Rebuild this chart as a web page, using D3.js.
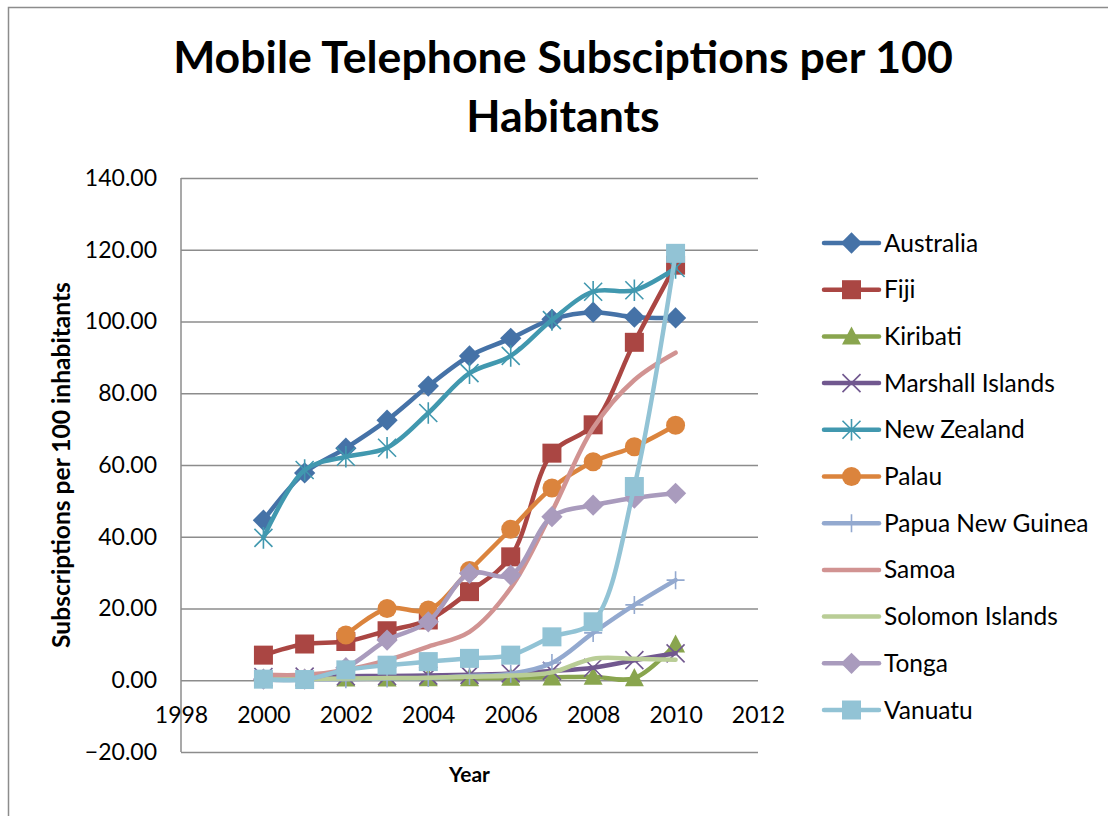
<!DOCTYPE html>
<meta charset="utf-8">
<script src="https://d3js.org/d3.v7.min.js"></script>
<style>
    body { margin: 0; background: #fff; }
    text { font-family: Lato, "Open Sans", sans-serif; fill: #000; }
</style>
<div id="chart"></div>
<script>
    // values
    var years = [2000, 2001, 2002, 2003, 2004, 2005, 2006, 2007, 2008, 2009, 2010];
    var australia = [44.6, 57.8, 64.7, 72.5, 82.0, 90.4, 95.3, 100.6, 102.6, 101.2, 101.0];
    var fiji = [7.0, 10.1, 10.8, 13.8, 16.8, 24.7, 34.4, 63.3, 71.2, 94.2, 115.7];
    var kiribati = [0.5, 0.5, 0.5, 0.5, 0.6, 0.6, 0.7, 0.8, 1.0, 0.6, 10.0];
    var marshall = [0.9, 1.0, 1.1, 1.2, 1.3, 1.5, 1.9, 2.6, 3.5, 5.6, 7.5];
    var newZealand = [39.7, 58.6, 62.3, 64.8, 74.5, 85.6, 90.4, 100.4, 108.3, 108.7, 114.9];
    var palau = [null, null, 12.6, 20.0, 19.6, 30.6, 42.1, 53.6, 60.9, 65.1, 71.1];
    var papua = [0.2, 0.3, 0.3, 0.5, 0.6, 1.2, 1.8, 4.8, 13.2, 21.0, 27.9];
    var samoa = [1.5, 1.5, 2.9, 5.6, 9.4, 13.5, 25.7, 47.0, 70.3, 83.7, 91.3];
    var solomon = [0.2, 0.3, 0.5, 0.6, 0.7, 1.0, 1.3, 2.2, 6.0, 6.0, 5.7];
    var tonga = [0.3, 0.3, 3.5, 11.2, 16.3, 29.8, 29.3, 45.6, 48.8, 50.8, 52.1];
    var vanuatu = [0.3, 0.2, 2.9, 4.2, 5.2, 6.1, 7.0, 12.1, 16.3, 54.0, 119.0];

    var seriesNames = ["Australia", "Fiji", "Kiribati", "Marshall Islands", "New Zealand", "Palau",
        "Papua New Guinea", "Samoa", "Solomon Islands", "Tonga", "Vanuatu"];
    var seriesValues = [australia, fiji, kiribati, marshall, newZealand, palau, papua, samoa, solomon, tonga, vanuatu];
    var seriesColors = ["#4572A7", "#AA4643", "#89A54E", "#71588F", "#4198AF", "#DB843D",
        "#93A9CF", "#D19392", "#B9CD96", "#A99BBD", "#92C3D5"];
    var seriesMarkers = ["diamond", "square", "triangle", "x", "star", "circle",
        "plus", "none", "none", "diamond", "square"];

    var xTicks = [1998, 2000, 2002, 2004, 2006, 2008, 2010, 2012];
    var yTicks = [-20, 0, 20, 40, 60, 80, 100, 120, 140];

    var W = 1108, H = 816;
    var plot = { left: 181, right: 758, top: 178, bottom: 752 };

    var svg = d3.select("#chart").append("svg")
        .attr("width", W)
        .attr("height", H);

    // chart area border
    svg.append("rect")
        .attr("x", 8.5).attr("y", 7.5)
        .attr("width", W + 20).attr("height", H + 20)
        .attr("fill", "none")
        .attr("stroke", "#8c8c8c")
        .attr("stroke-width", 1.5);

    var x = d3.scaleLinear().domain([1998, 2012]).range([plot.left, plot.right]);
    var y = d3.scaleLinear().domain([-20, 140]).range([plot.bottom, plot.top]);

    // gridlines + y labels
    var yAxis = d3.axisLeft(y)
        .tickValues(yTicks)
        .tickSize(-(plot.right - plot.left))
        .tickPadding(24)
        .tickFormat(d3.format(".2f"));

    var gy = svg.append("g")
        .attr("transform", "translate(" + plot.left + ",0)")
        .call(yAxis);
    gy.select(".domain").remove();
    gy.selectAll(".tick line").attr("stroke", "#8c8c8c").attr("stroke-width", 1.5);
    gy.selectAll(".tick text")
        .style("font-size", "23px")
        .attr("fill", "#000");

    // y axis line
    svg.append("line")
        .attr("x1", plot.left).attr("x2", plot.left)
        .attr("y1", plot.top).attr("y2", plot.bottom)
        .attr("stroke", "#8c8c8c").attr("stroke-width", 1.5);

    // x labels sit under the zero line
    var xAxis = d3.axisBottom(x)
        .tickValues(xTicks)
        .tickSize(0)
        .tickPadding(26)
        .tickFormat(d3.format("d"));
    var gx = svg.append("g")
        .attr("transform", "translate(0," + y(0) + ")")
        .call(xAxis);
    gx.select(".domain").remove();
    gx.selectAll(".tick text")
        .style("font-size", "23px")
        .attr("fill", "#000");

    // marker shapes
    function markerPath(type, s) {
        var h = s / 2;
        if (type === "diamond") {
            h = h * 1.12;
            return "M0," + (-h) + "L" + h + ",0L0," + h + "L" + (-h) + ",0Z";
        }
        if (type === "square") return "M" + (-h) + "," + (-h) + "h" + s + "v" + s + "h" + (-s) + "Z";
        if (type === "triangle") return "M0," + (-h * 1.05) + "L" + h + "," + h * 0.85 + "L" + (-h) + "," + h * 0.85 + "Z";
        if (type === "x") return "M" + (-h) + "," + (-h) + "L" + h + "," + h + "M" + h + "," + (-h) + "L" + (-h) + "," + h;
        if (type === "star") return "M" + (-h) + "," + (-h) + "L" + h + "," + h + "M" + h + "," + (-h) + "L" + (-h) + "," + h +
            "M0," + (-h * 1.2) + "V" + h * 1.2;
        if (type === "plus") return "M" + (-h) + ",0H" + h + "M0," + (-h) + "V" + h;
        return "";
    }

    function drawMarker(g, type, color) {
        if (type === "none") return;
        if (type === "circle") {
            g.append("circle").attr("r", 9.5).attr("fill", color);
        } else if (type === "x" || type === "star" || type === "plus") {
            g.append("path").attr("d", markerPath(type, 18))
                .attr("stroke", color).attr("stroke-width", 1.6).attr("fill", "none");
        } else {
            g.append("path").attr("d", markerPath(type, 19)).attr("fill", color);
        }
    }

    var line = d3.line()
        .defined(function (d) { return d.v !== null; })
        .x(function (d) { return x(d.year); })
        .y(function (d) { return y(d.v); })
        .curve(d3.curveCatmullRom.alpha(0.5));

    var series = seriesNames.map(function (name, i) {
        return {
            name: name,
            color: seriesColors[i],
            marker: seriesMarkers[i],
            points: years.map(function (yr, j) { return { year: yr, v: seriesValues[i][j] }; })
        };
    });

    series.forEach(function (s) {
        var g = svg.append("g");
        g.append("path")
            .datum(s.points.filter(function (d) { return d.v !== null; }))
            .attr("d", line)
            .attr("fill", "none")
            .attr("stroke", s.color)
            .attr("stroke-width", 4.5)
            .attr("stroke-linejoin", "round")
            .attr("stroke-linecap", "round");
        s.points.forEach(function (p) {
            if (p.v === null) return;
            var m = g.append("g").attr("transform", "translate(" + x(p.year) + "," + y(p.v) + ")");
            drawMarker(m, s.marker, s.color);
        });
    });

    // legend
    var legend = svg.append("g");
    series.forEach(function (s, i) {
        var ly = 243 + i * 46.7;
        var row = legend.append("g").attr("transform", "translate(0," + ly + ")");
        row.append("line")
            .attr("x1", 824).attr("x2", 879)
            .attr("stroke", s.color).attr("stroke-width", 4.5)
            .attr("stroke-linecap", "round");
        var m = row.append("g").attr("transform", "translate(851.5,0)");
        drawMarker(m, s.marker, s.color);
        row.append("text")
            .attr("x", 884)
            .attr("dy", "0.35em")
            .style("font-size", "24.5px")
            .text(s.name);
    });

    // titles
    function fitWidth(t, target) {
        var size = parseFloat(t.style("font-size"));
        var w = t.node().getComputedTextLength();
        t.style("font-size", (size * target / w) + "px");
    }

    var t1 = svg.append("text")
        .attr("x", 563).attr("y", 73)
        .attr("text-anchor", "middle")
        .style("font-size", "40px").style("font-weight", "bold")
        .text("Mobile Telephone Subsciptions per 100");
    fitWidth(t1, 780);
    svg.append("text")
        .attr("x", 563).attr("y", 132)
        .attr("text-anchor", "middle")
        .style("font-size", t1.style("font-size")).style("font-weight", "bold")
        .text("Habitants");

    var yt = svg.append("text")
        .attr("transform", "translate(70," + ((plot.top + plot.bottom) / 2) + ") rotate(-90)")
        .attr("text-anchor", "middle")
        .style("font-size", "20px").style("font-weight", "bold")
        .text("Subscriptions per 100 inhabitants");
    fitWidth(yt, 366);

    svg.append("text")
        .attr("x", (plot.left + plot.right) / 2).attr("y", 782)
        .attr("text-anchor", "middle")
        .style("font-size", "21px").style("font-weight", "bold")
        .text("Year");
</script>
